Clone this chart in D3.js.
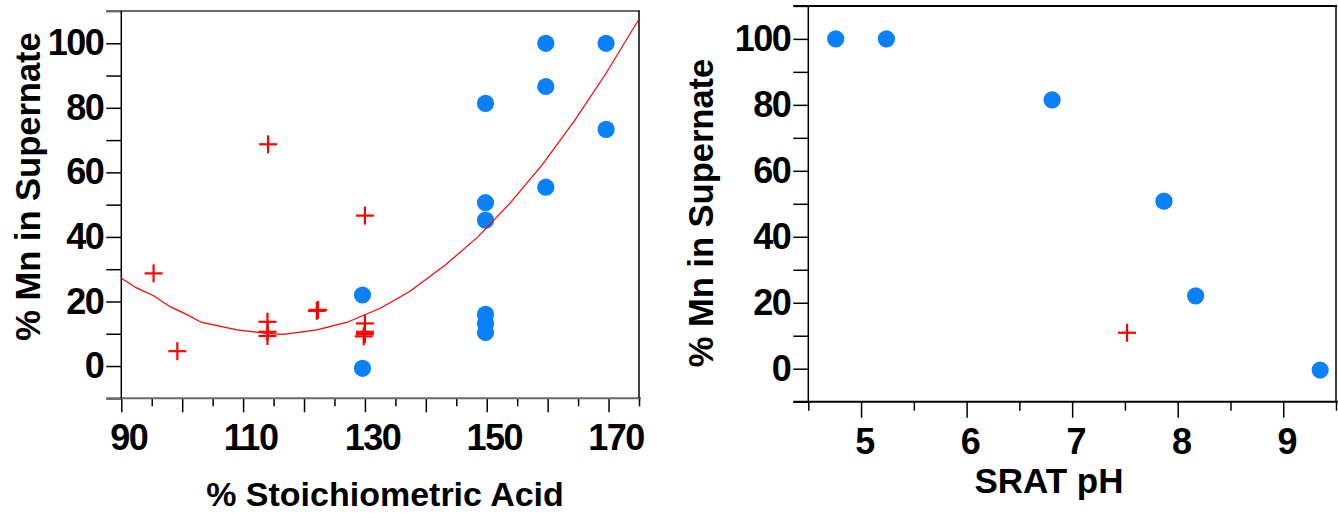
<!DOCTYPE html>
<html>
<head>
<meta charset="utf-8">
<script src="https://cdn.jsdelivr.net/npm/d3@7"></script>
<style>
  html, body { margin: 0; padding: 0; background: #fff; }
  svg { display: block; }
  text { font-family: "Liberation Sans", Arial, sans-serif; font-weight: bold; fill: #000; }
</style>
</head>
<body>
<svg id="chart" width="1338" height="513"></svg>
<script>
// ---- Left panel: % Mn in supernate vs % stoichiometric acid ----
const acidBlueX = [129.6, 129.6, 149.8, 149.8, 149.8, 149.8, 149.8, 149.8, 159.7, 159.7, 159.7, 169.6, 169.6];
const acidBlueY = [22.0, -0.7, 81.4, 50.6, 45.2, 16.0, 13.2, 10.4, 100, 86.6, 55.4, 100, 73.3];
const acidRedX = [95.3, 99.2, 114.1, 114.0, 114.0, 114.0, 122.3, 122.1, 130.0, 130.0, 130.0, 130.0, 129.8];
const acidRedY = [28.7, 4.6, 68.7, 13.7, 10.6, 9.3, 17.4, 17.1, 46.6, 13.2, 10.6, 9.9, 9.2];
// fitted trend drawn through the acid data
const trendX = [90, 92.5, 95.3, 98, 100.7, 103.2, 109, 113.9, 116.6, 122.1, 127, 132.5, 137.4, 143.2, 148.6, 153.9, 159.1, 164.3, 169.6, 174.9];
const trendY = [27.2, 24.2, 21.8, 18.4, 16.0, 13.5, 11.2, 10.1, 9.8, 11.2, 13.5, 17.9, 23.2, 31.3, 40.1, 50.6, 62.3, 75.7, 90.7, 107.2];
const acidTicks = [90, 95, 100, 105, 110, 115, 120, 125, 130, 135, 140, 145, 150, 155, 160, 165, 170, 175];
const acidLabels = [90, 110, 130, 150, 170];

// ---- Right panel: % Mn in supernate vs SRAT pH ----
const phBlueX = [4.76, 5.24, 6.81, 7.87, 8.17, 9.35];
const phBlueY = [100, 100, 81.5, 50.8, 22.1, -0.4];
const phRedX = [7.52];
const phRedY = [10.9];
const phTicks = [4.5, 5, 5.5, 6, 6.5, 7, 7.5, 8, 8.5, 9, 9.5];
const phLabels = [5, 6, 7, 8, 9];

// shared y axis
const mnTicks = [-10, 0, 10, 20, 30, 40, 50, 60, 70, 80, 90, 100, 110];
const mnLabels = [0, 20, 40, 60, 80, 100];

const BLUE = "#0a80fb";
const RED = "#ff0000";

const svg = d3.select("#chart");

function panel(opt) {
  const g = svg.append("g");
  const x = d3.scaleLinear().domain(opt.xDomain).range(opt.xRange);
  const y = d3.scaleLinear().domain([-10, 110]).range(opt.yRange);
  const [x0, x1] = opt.xRange;
  const [yb, yt] = opt.yRange;

  // y axis with ticks every 10, labels every 20
  const yAxis = d3.axisLeft(y).tickValues(mnTicks).tickSize(15).tickPadding(3)
    .tickFormat(d => mnLabels.includes(d) ? d3.format("d")(d) : "");
  const ya = g.append("g").attr("transform", `translate(${x0},0)`).call(yAxis);
  ya.select(".domain").remove();
  ya.selectAll(".tick line").attr("stroke", "#000").attr("stroke-width", 1.5);
  ya.selectAll(".tick text").attr("font-size", 36).style("letter-spacing", "-1.5px")
    .attr("font-family", "Liberation Sans, Arial, sans-serif").attr("font-weight", "bold").attr("fill", "#000");

  // x axis: long ticks on major values, short ticks in between
  const xAxis = d3.axisBottom(x).tickValues(opt.xTicks).tickSize(opt.majorLen).tickPadding(0)
    .tickFormat(d => opt.xLabels.includes(d) ? String(d) : "");
  const xa = g.append("g").attr("transform", `translate(0,${yb})`).call(xAxis);
  xa.select(".domain").remove();
  xa.selectAll(".tick line").attr("stroke", "#000").attr("stroke-width", 1.5)
    .attr("y2", d => opt.isMajor(d) ? opt.majorLen : opt.minorLen);
  xa.selectAll(".tick text").attr("font-size", 36).style("letter-spacing", "-1.5px")
    .attr("font-family", "Liberation Sans, Arial, sans-serif").attr("font-weight", "bold").attr("fill", "#000")
    .attr("y", 52).attr("dy", 0).attr("dx", opt.labelDx);

  // frame: horizontal lines reach out to the tick ends, vertical spines
  g.append("line").attr("x1", x0 - 15).attr("x2", x1 + 1).attr("y1", yt).attr("y2", yt)
    .attr("stroke", opt.hColor).attr("stroke-width", 2);
  g.append("line").attr("x1", x0 - 15).attr("x2", x1 + 2).attr("y1", yb).attr("y2", yb)
    .attr("stroke", opt.hColor).attr("stroke-width", 2);
  g.append("line").attr("x1", x0).attr("x2", x0).attr("y1", yt).attr("y2", yb)
    .attr("stroke", "#000").attr("stroke-width", 1.5);
  g.append("line").attr("x1", x1).attr("x2", x1).attr("y1", yt).attr("y2", yb)
    .attr("stroke", "#000").attr("stroke-width", 1.5);

  return { g, x, y };
}

function dots(p, xs, ys) {
  p.g.append("g").selectAll("circle").data(d3.range(xs.length)).join("circle")
    .attr("cx", i => p.x(xs[i])).attr("cy", i => p.y(ys[i])).attr("r", 8.6)
    .attr("fill", BLUE);
}

function pluses(p, xs, ys) {
  const arm = 9;
  const gg = p.g.append("g").attr("stroke", RED).attr("stroke-width", 2.2);
  d3.range(xs.length).forEach(i => {
    const cx = p.x(xs[i]), cy = p.y(ys[i]);
    gg.append("line").attr("x1", cx - arm).attr("x2", cx + arm).attr("y1", cy).attr("y2", cy);
    gg.append("line").attr("x1", cx).attr("x2", cx).attr("y1", cy - arm).attr("y2", cy + arm);
  });
}

// Left panel
const left = panel({
  xDomain: [90, 175], xRange: [121.3, 639], yRange: [398.3, 11],
  xTicks: acidTicks, xLabels: acidLabels,
  isMajor: d => d % 10 === 0, majorLen: 14, minorLen: 8,
  labelDx: 7, hColor: "#6a6a6a"
});
dots(left, acidBlueX, acidBlueY);
left.g.append("path")
  .datum(d3.range(trendX.length))
  .attr("fill", "none").attr("stroke", RED).attr("stroke-width", 1.2)
  .attr("d", d3.line().x(i => left.x(trendX[i])).y(i => left.y(trendY[i])));
pluses(left, acidRedX, acidRedY);

// Right panel
const right = panel({
  xDomain: [4.5, 9.5], xRange: [808.3, 1336], yRange: [401.7, 5.9],
  xTicks: phTicks, xLabels: phLabels,
  isMajor: d => Number.isInteger(d), majorLen: 16, minorLen: 9,
  labelDx: 3, hColor: "#000"
});
dots(right, phBlueX, phBlueY);
pluses(right, phRedX, phRedY);

// Axis titles
svg.append("text").attr("x", 385).attr("y", 506).attr("text-anchor", "middle")
  .attr("font-size", 34).text("% Stoichiometric Acid");
svg.append("text").attr("x", 1049).attr("y", 493).attr("text-anchor", "middle")
  .attr("font-size", 35).text("SRAT pH");
svg.append("text").attr("transform", "translate(40,186.5) rotate(-90)").attr("text-anchor", "middle")
  .attr("font-size", 34.5).text("% Mn in Supernate");
svg.append("text").attr("transform", "translate(713,213) rotate(-90)").attr("text-anchor", "middle")
  .attr("font-size", 34.5).text("% Mn in Supernate");
</script>
</body>
</html>
